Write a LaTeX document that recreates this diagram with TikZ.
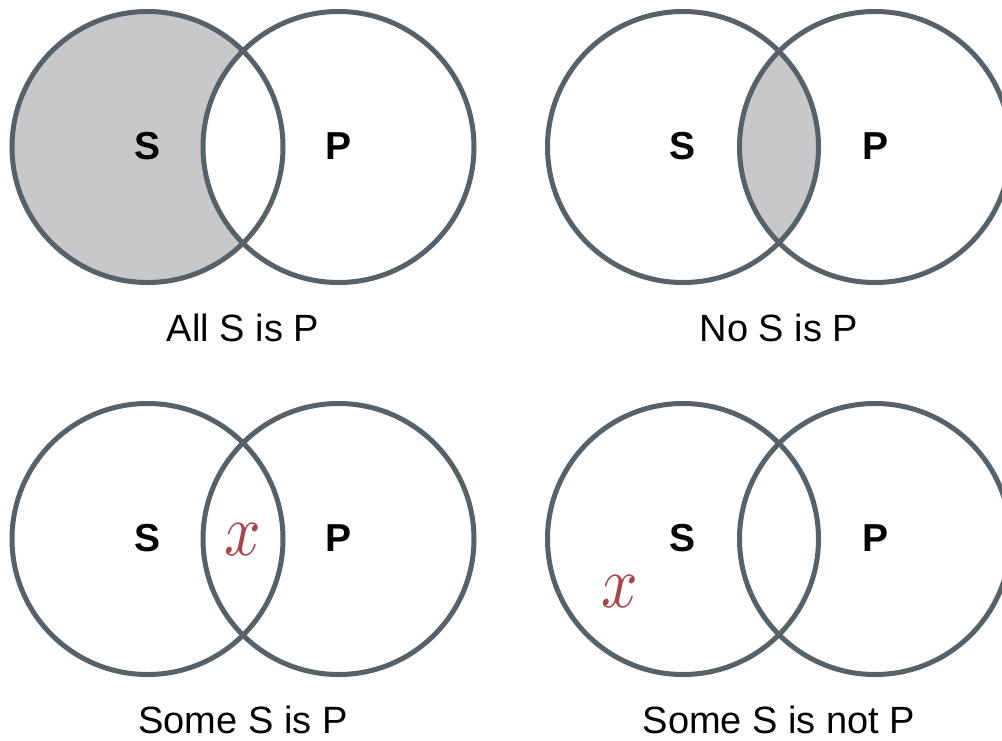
\documentclass[tikz,border=0pt]{standalone}
\usepackage{fontspec}
\setmainfont{Liberation Sans}
\definecolor{ringcol}{HTML}{56616A}
\definecolor{shadecol}{HTML}{C8C8CA}
\definecolor{xred}{HTML}{A8474B}
\tikzset{
  ringline/.style={draw=ringcol, line width=5pt},
  lbl/.style={font=\fontsize{39}{39}\selectfont\bfseries, inner sep=0pt},
  captxt/.style={font=\fontsize{38}{38}\selectfont, inner sep=0pt, anchor=base},
  xmark/.style={text=xred, inner sep=0pt, xscale=6.4, yscale=7.4}
}
\begin{document}
\begin{tikzpicture}[x=1pt,y=-1pt]
\useasboundingbox (0,0) rectangle (1002,740);
\fill[white] (0,0) rectangle (1002,740);
\clip (0,0) rectangle (1002,740);
\def\R{135.5}
% top-left: All S is P
\fill[shadecol] (147.5,147) circle (\R);
\fill[white] (338.5,147) circle (\R);
\draw[ringline] (147.5,147) circle (\R);
\draw[ringline] (338.5,147) circle (\R);
\node[lbl] (s1) at (147.5,146) {S};
\node[lbl] (p1) at (338.5,146) {P};
\node[captxt] (c1) at (243,341) {All S is P};
% top-right: No S is P
\begin{scope}
\clip (683,147) circle (\R);
\fill[shadecol] (875,147) circle (\R);
\end{scope}
\draw[ringline] (683,147) circle (\R);
\draw[ringline] (875,147) circle (\R);
\node[lbl] (s2) at (683,146) {S};
\node[lbl] (p2) at (875,146) {P};
\node[captxt] (c2) at (779,341) {No S is P};
% bottom-left: Some S is P
\draw[ringline] (147.5,539) circle (\R);
\draw[ringline] (338.5,539) circle (\R);
\node[lbl] (s3) at (147.5,538.5) {S};
\node[lbl] (p3) at (338.5,538.5) {P};
\node[xmark] (x3) at (243,540) {$x$};
\node[captxt] (c3) at (243,733) {Some S is P};
% bottom-right: Some S is not P
\draw[ringline] (683,539) circle (\R);
\draw[ringline] (875,539) circle (\R);
\node[lbl] (s4) at (683,538.5) {S};
\node[lbl] (p4) at (875,538.5) {P};
\node[xmark] (x4) at (620,592) {$x$};
\node[captxt] (c4) at (779,733) {Some S is not P};
\end{tikzpicture}
\end{document}
